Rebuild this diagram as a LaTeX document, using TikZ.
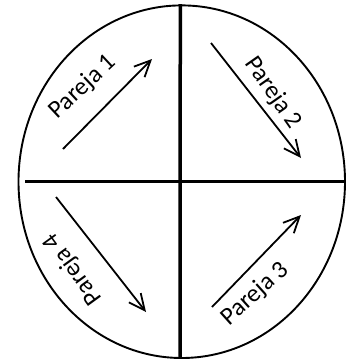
\documentclass[tikz,border=0pt]{standalone}
\usepackage{fontspec}
\setmainfont{Carlito}
\usetikzlibrary{arrows.meta,shapes.geometric}
\begin{document}
\begin{tikzpicture}[x=1pt,y=-1pt,
  divider/.style={line width=3.5pt},
  rim/.style={line width=1.9pt},
  pairarrow/.style={line width=1.8pt,-{Straight Barb[length=16pt,width=15pt,line width=1.8pt]}},
  pairlabel/.style={font=\fontsize{25}{29}\selectfont,inner sep=0pt}]
\useasboundingbox (0,0) rectangle (351,362);
\node[draw,rim,ellipse,minimum width=326.5pt,minimum height=352.6pt,inner sep=0pt] (rim) at (181.75,181.7) {};
\coordinate (vt) at (180.3,4);
\coordinate (vb) at (180,358);
\coordinate (hl) at (25,181.7);
\coordinate (hr) at (345,181.7);
\draw[divider] (vt) -- (vb);
\draw[divider] (hl) -- (hr);
\coordinate (a1s) at (63,149);
\coordinate (a1e) at (152,59);
\coordinate (a2s) at (211,43);
\coordinate (a2e) at (301,158);
\coordinate (a3s) at (212,307);
\coordinate (a3e) at (301,215);
\coordinate (a4s) at (56,197);
\coordinate (a4e) at (146,312);
\draw[pairarrow] (a1s) -- (a1e);
\draw[pairarrow] (a2s) -- (a2e);
\draw[pairarrow] (a3s) -- (a3e);
\draw[pairarrow] (a4s) -- (a4e);
\node[pairlabel,rotate=43] (l1) at (83,87) {Pareja 1};
\node[pairlabel,rotate=-55] (l2) at (273,93) {Pareja 2};
\node[pairlabel,rotate=42] (l3) at (255,294) {Pareja 3};
\node[pairlabel,rotate=126] (l4) at (73,269) {Pareja 4};
\end{tikzpicture}
\end{document}
